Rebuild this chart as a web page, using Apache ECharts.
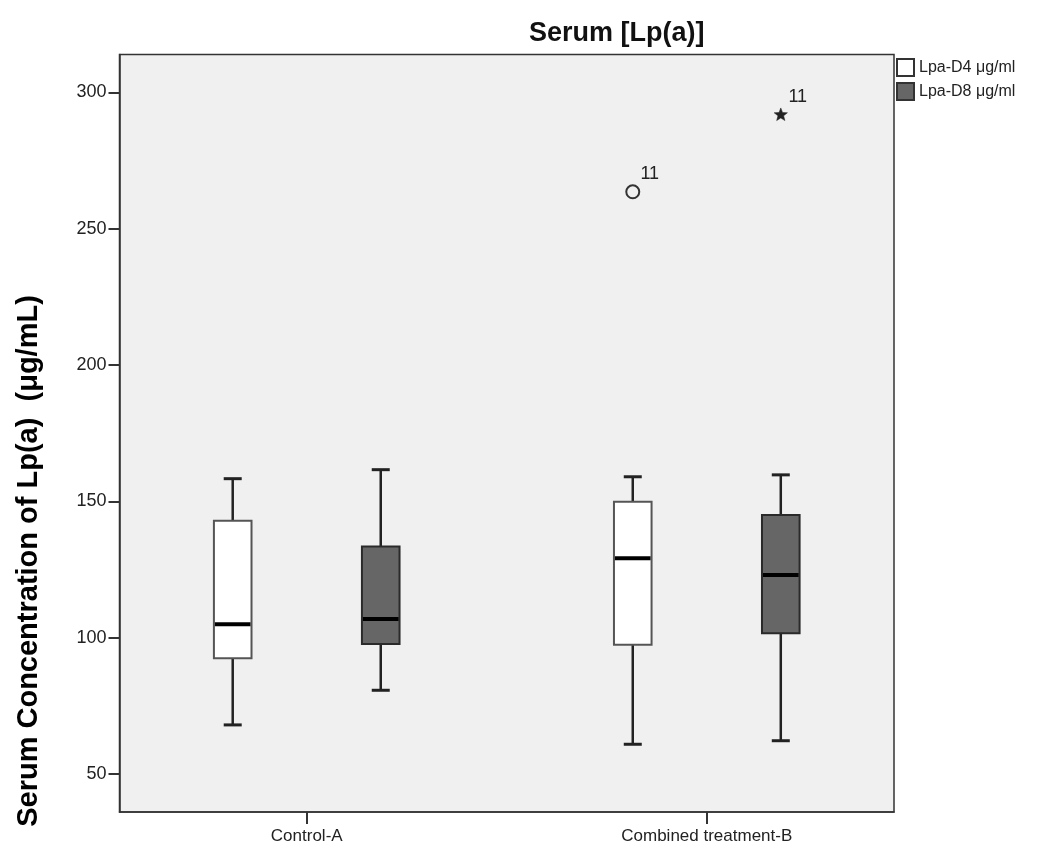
<!DOCTYPE html>
<html>
<head>
<meta charset="utf-8">
<script src="https://cdn.jsdelivr.net/npm/echarts@6/dist/echarts.min.js"></script>
<style>
html,body{margin:0;padding:0;background:#fff;}
#chart{width:1037px;height:848px;}
</style>
</head>
<body>
<div id="chart"></div>
<script>
// ---- data ----
var categories = ['Control-A', 'Combined treatment-B'];
var seriesNames = ['Lpa-D4 μg/ml', 'Lpa-D8 μg/ml'];
// [lower whisker, Q1, median, Q3, upper whisker]
var d4Box = [[68.0, 92.4, 104.9, 142.9, 158.3], [60.9, 97.4, 129.1, 149.8, 159.0]];
var d8Box = [[80.7, 97.7, 106.8, 133.4, 161.6], [62.2, 101.6, 123.0, 145.0, 159.7]];
// [category index, value, case label]
var d4Outliers = [[1, 263.5, '11']];
var d8Extremes = [[1, 291.7, '11']];
var yTicks = [50, 100, 150, 200, 250, 300];

var FONT = '"Liberation Sans", Arial, sans-serif';
var chart = echarts.init(document.getElementById('chart'));

function boxRenderer(offset, fill, border) {
  return function (params, api) {
    var x = api.value(0) + offset;
    var lo = api.coord([x, api.value(1)]);
    var q1 = api.coord([x, api.value(2)]);
    var md = api.coord([x, api.value(3)]);
    var q3 = api.coord([x, api.value(4)]);
    var hi = api.coord([x, api.value(5)]);
    var w = api.size([0.094, 0])[0];
    var cap = 18;
    var cx = q1[0];
    var ls = {stroke: '#222', lineWidth: 2.5};
    return {
      type: 'group',
      children: [
        {type: 'line', shape: {x1: cx, y1: q3[1], x2: cx, y2: hi[1]}, style: ls},
        {type: 'line', shape: {x1: cx, y1: q1[1], x2: cx, y2: lo[1]}, style: ls},
        {type: 'line', shape: {x1: cx - cap / 2, y1: hi[1], x2: cx + cap / 2, y2: hi[1]}, style: {stroke: '#222', lineWidth: 3}},
        {type: 'line', shape: {x1: cx - cap / 2, y1: lo[1], x2: cx + cap / 2, y2: lo[1]}, style: {stroke: '#222', lineWidth: 3}},
        {type: 'rect', shape: {x: cx - w / 2, y: q3[1], width: w, height: q1[1] - q3[1]},
         style: {fill: fill, stroke: border, lineWidth: 2}},
        {type: 'line', shape: {x1: cx - w / 2 + 1, y1: md[1], x2: cx + w / 2 - 1, y2: md[1]}, style: {stroke: '#000', lineWidth: 4}}
      ]
    };
  };
}

function starPoints(cx, cy, R, r) {
  var pts = [];
  for (var i = 0; i < 10; i++) {
    var a = -Math.PI / 2 + i * Math.PI / 5;
    var rad = i % 2 === 0 ? R : r;
    pts.push([cx + rad * Math.cos(a), cy + rad * Math.sin(a)]);
  }
  return pts;
}

function outlierRenderer(offset, kind) {
  return function (params, api) {
    var p = api.coord([api.value(0) + offset, api.value(1)]);
    var mark = kind === 'circle'
      ? {type: 'circle', shape: {cx: p[0], cy: p[1], r: 6.5}, style: {fill: 'none', stroke: '#333', lineWidth: 2}}
      : {type: 'polygon', shape: {points: starPoints(p[0], p[1], 7, 3)}, style: {fill: '#222', stroke: '#222', lineWidth: 0.5}};
    return {
      type: 'group',
      children: [
        mark,
        {type: 'text', x: p[0] + 17, y: p[1] - 18,
         style: {text: String(api.value(2)), fill: '#222', font: '18px ' + FONT, align: 'center', verticalAlign: 'middle'}}
      ]
    };
  };
}

var option = {
  backgroundColor: '#ffffff',
  animation: false,
  grid: {left: 119.5, top: 54.5, width: 774.5, height: 757.5, show: true,
         backgroundColor: '#f0f0f0', borderColor: '#333', borderWidth: 1.5, containLabel: false},
  legend: {
    orient: 'vertical', left: 896, top: 58, itemWidth: 17, itemHeight: 17, itemGap: 5, padding: 0,
    textStyle: {fontFamily: FONT, fontSize: 16, color: '#222'},
    data: [
      {name: seriesNames[0], icon: 'rect', itemStyle: {color: '#ffffff', borderColor: '#333', borderWidth: 2}},
      {name: seriesNames[1], icon: 'rect', itemStyle: {color: '#666666', borderColor: '#333', borderWidth: 2}}
    ]
  },
  graphic: [
    {type: 'text', z: 10, x: 616.7, y: 34,
     style: {text: 'Serum [Lp(a)]', x: 0, y: 0, align: 'center', verticalAlign: 'middle',
             font: 'bold 27px ' + FONT, fill: '#111'}},
    {type: 'text', z: 10, x: 29, y: 561, rotation: Math.PI / 2,
     style: {text: 'Serum Concentration of Lp(a)  (μg/mL)', x: 0, y: 0, align: 'center', verticalAlign: 'middle',
             font: 'bold 29px ' + FONT, fill: '#000'}}
  ],
  xAxis: {
    type: 'value', min: -0.468, max: 1.468,
    axisLine: {show: true, onZero: false, lineStyle: {color: '#333', width: 1.5}},
    axisTick: {show: true, customValues: [0, 1], length: 12, lineStyle: {color: '#333', width: 2}},
    axisLabel: {customValues: [0, 1], margin: 16, fontFamily: FONT, fontSize: 17, color: '#222',
                formatter: function (v) { return categories[Math.round(v)]; }},
    splitLine: {show: false}
  },
  yAxis: {
    type: 'value', min: 36.06, max: 313.86,
    axisLine: {show: true, onZero: false, lineStyle: {color: '#333', width: 1.5}},
    axisTick: {show: true, customValues: yTicks, length: 11, lineStyle: {color: '#333', width: 2}},
    axisLabel: {customValues: yTicks, margin: 13, fontFamily: FONT, fontSize: 18, color: '#222'},
    splitLine: {show: false}
  },
  series: [
    {name: seriesNames[0], type: 'custom', itemStyle: {color: '#ffffff', borderColor: '#333'},
     renderItem: boxRenderer(-0.185, '#ffffff', '#555'),
     data: d4Box.map(function (b, i) { return [i].concat(b); })},
    {name: seriesNames[1], type: 'custom', itemStyle: {color: '#666666', borderColor: '#333'},
     renderItem: boxRenderer(0.185, '#666666', '#2a2a2a'),
     data: d8Box.map(function (b, i) { return [i].concat(b); })},
    {name: seriesNames[0], type: 'custom', renderItem: outlierRenderer(-0.185, 'circle'), data: d4Outliers},
    {name: seriesNames[1], type: 'custom', renderItem: outlierRenderer(0.185, 'star'), data: d8Extremes}
  ]
};
chart.setOption(option);
</script>
</body>
</html>
